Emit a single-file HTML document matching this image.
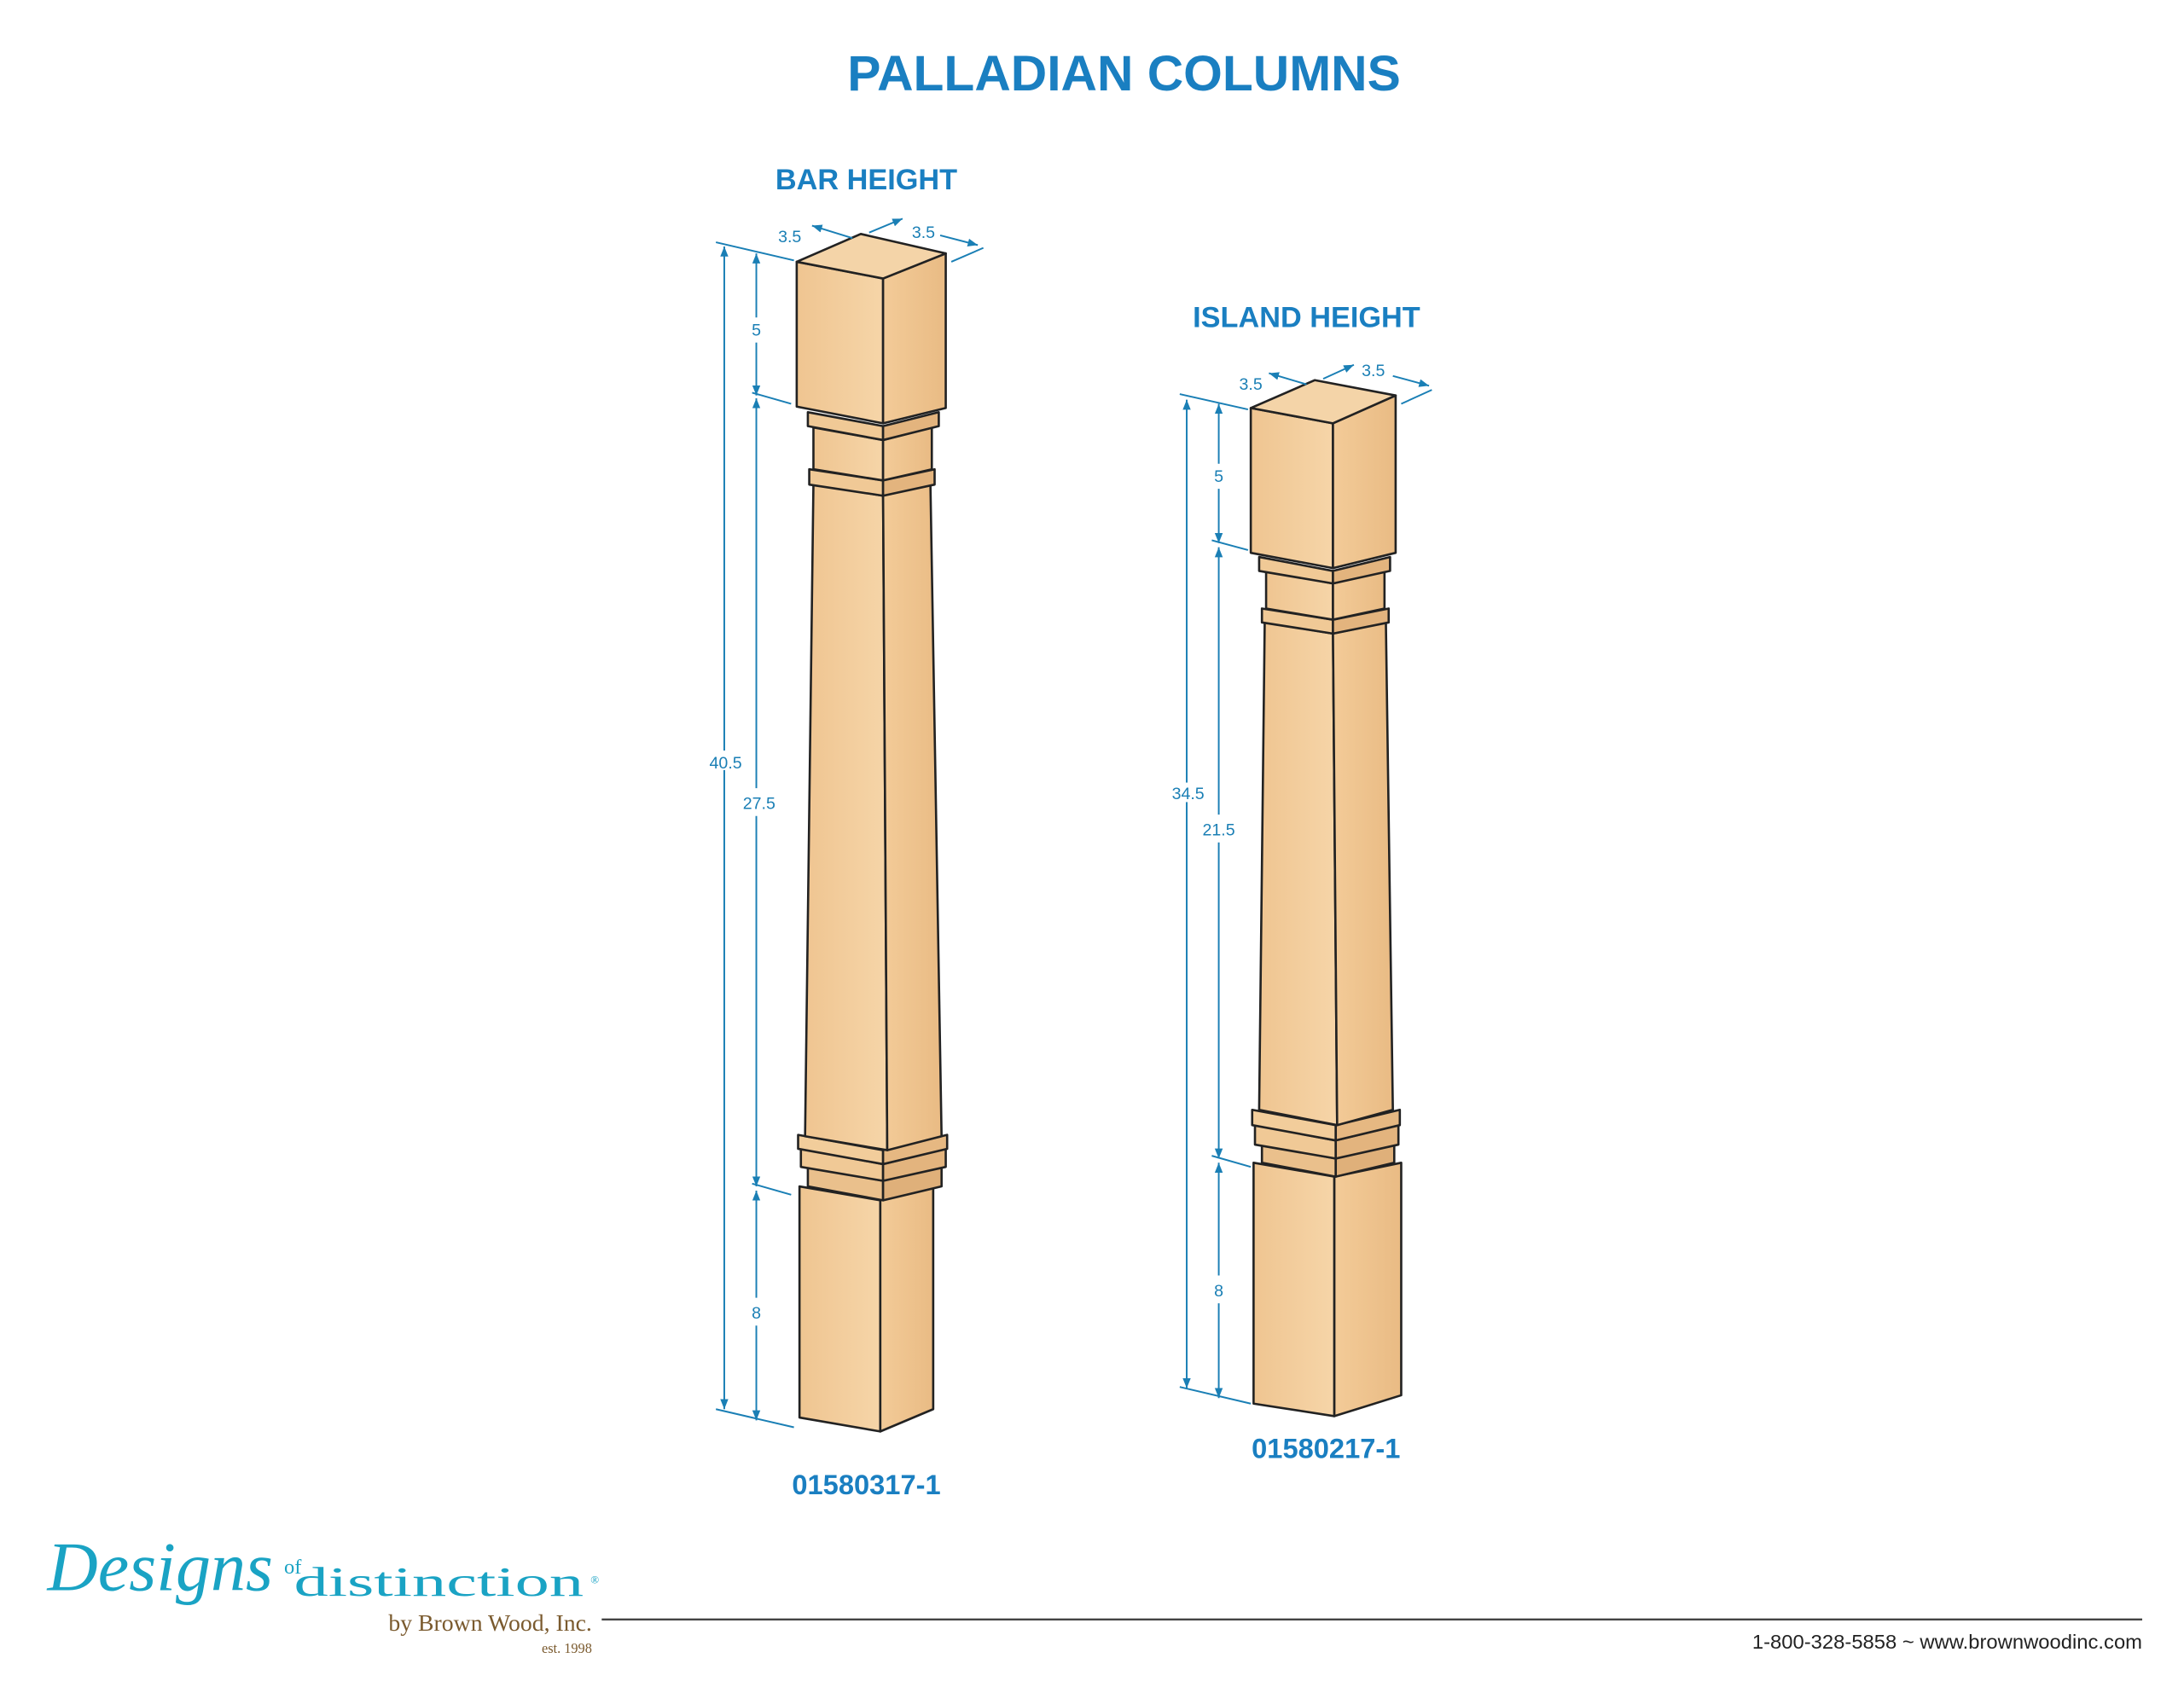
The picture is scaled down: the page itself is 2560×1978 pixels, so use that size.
<!DOCTYPE html>
<html><head><meta charset="utf-8"><style>
html,body{margin:0;padding:0;background:#fff;}
svg{display:block;}
</style></head><body>
<svg width="2560" height="1978" viewBox="0 0 1568 1211.5" xmlns="http://www.w3.org/2000/svg">
<defs>
<marker id="a" viewBox="0 0 10 10" refX="10" refY="5" markerWidth="6" markerHeight="6" orient="auto-start-reverse"><path d="M0,1 L10,5 L0,9 z" fill="#1a7fb5"/></marker>
<linearGradient id="L" x1="0" x2="1" y1="0" y2="0"><stop offset="0" stop-color="#efc591"/><stop offset="1" stop-color="#f6d5a8"/></linearGradient>
<linearGradient id="R" x1="0" x2="1" y1="0" y2="0"><stop offset="0" stop-color="#f3cb98"/><stop offset="1" stop-color="#e9bb84"/></linearGradient>
</defs>
<rect width="1568" height="1211.5" fill="#fff"/>
<g font-family="Liberation Sans, sans-serif" font-weight="bold" fill="#1a7fc1" text-anchor="middle">
<text x="807" y="65" font-size="36">PALLADIAN COLUMNS</text>
<text x="622" y="136" font-size="21">BAR HEIGHT</text>
<text x="938" y="235" font-size="21">ISLAND HEIGHT</text>
<text x="622" y="1073" font-size="20">01580317-1</text>
<text x="952" y="1047" font-size="20">01580217-1</text>
</g>

<!-- BAR COLUMN -->
<g stroke="#222" stroke-width="1.6" stroke-linejoin="round">
<polygon points="574,852 632,862 632,1028 574,1018" fill="url(#L)"/>
<polygon points="632,862 670,852 670,1012 632,1028" fill="url(#R)"/>
<polygon points="580,838 634,848 634,862 580,852" fill="#eac08c"/>
<polygon points="634,848 676,838 676,852 634,862" fill="#dfb07a"/>
<polygon points="575,825 634,836 634,848 575,838" fill="#f0c996"/>
<polygon points="634,836 679,825 679,838 634,848" fill="#e3b47e"/>
<polygon points="573,815 634,826 634,836 573,825" fill="#f2cd9b"/>
<polygon points="634,826 680,815 680,825 634,836" fill="#e6b882"/>
<polygon points="584,348 634,356 637,826 578,816" fill="url(#L)"/>
<polygon points="634,356 668,348 676,816 637,826" fill="url(#R)"/>
<polygon points="581,337 634,345 634,356 581,348" fill="#f0c996"/>
<polygon points="634,345 671,337 671,348 634,356" fill="#e3b47e"/>
<polygon points="584,307 634,316 634,345 584,337" fill="url(#L)"/>
<polygon points="634,316 669,307 669,337 634,345" fill="url(#R)"/>
<polygon points="580,296 634,306 634,316 580,306" fill="#f0c996"/>
<polygon points="634,306 674,296 674,306 634,316" fill="#e3b47e"/>
<polygon points="572,188 634,200 634,304 572,292" fill="url(#L)"/>
<polygon points="634,200 679,182 679,293 634,304" fill="url(#R)"/>
<polygon points="572,188 618,168 679,182 634,200" fill="#f4d4a8"/>
</g>

<!-- ISLAND COLUMN -->
<g stroke="#222" stroke-width="1.6" stroke-linejoin="round">
<polygon points="900,835 958,845 958,1017 900,1008" fill="url(#L)"/>
<polygon points="958,845 1006,835 1006,1002 958,1017" fill="url(#R)"/>
<polygon points="906,822 959,832 959,845 906,835" fill="#eac08c"/>
<polygon points="959,832 1001,822 1001,835 959,845" fill="#dfb07a"/>
<polygon points="901,808 959,819 959,832 901,822" fill="#f0c996"/>
<polygon points="959,819 1004,808 1004,822 959,832" fill="#e3b47e"/>
<polygon points="899,797 959,808 959,819 899,808" fill="#f2cd9b"/>
<polygon points="959,808 1005,797 1005,808 959,819" fill="#e6b882"/>
<polygon points="908,447 957,455 960,808 904,797" fill="url(#L)"/>
<polygon points="957,455 995,447 1000,797 960,808" fill="url(#R)"/>
<polygon points="906,437 957,445 957,455 906,447" fill="#f0c996"/>
<polygon points="957,445 997,437 997,447 957,455" fill="#e3b47e"/>
<polygon points="909,410 957,419 957,445 909,437" fill="url(#L)"/>
<polygon points="957,419 994,410 994,437 957,445" fill="url(#R)"/>
<polygon points="904,400 957,410 957,419 904,410" fill="#f0c996"/>
<polygon points="957,410 998,400 998,410 957,419" fill="#e3b47e"/>
<polygon points="898,293 957,304 957,408 898,397" fill="url(#L)"/>
<polygon points="957,304 1002,284 1002,397 957,408" fill="url(#R)"/>
<polygon points="898,293 944,273 1002,284 957,304" fill="#f4d4a8"/>
</g>

<!-- DIMENSIONS -->
<g stroke="#1a7fb5" stroke-width="1.2" fill="none">
<line x1="514" y1="174" x2="570" y2="187"/>
<line x1="540" y1="282" x2="568" y2="290"/>
<line x1="540" y1="850" x2="568" y2="858"/>
<line x1="514" y1="1012" x2="570" y2="1025"/>
<line x1="520" y1="177" x2="520" y2="1012" marker-start="url(#a)" marker-end="url(#a)"/>
<line x1="543" y1="182" x2="543" y2="228" marker-start="url(#a)"/>
<line x1="543" y1="246" x2="543" y2="284" marker-end="url(#a)"/>
<line x1="543" y1="286" x2="543" y2="566" marker-start="url(#a)"/>
<line x1="543" y1="586" x2="543" y2="852" marker-end="url(#a)"/>
<line x1="543" y1="855" x2="543" y2="932" marker-start="url(#a)"/>
<line x1="543" y1="952" x2="543" y2="1020" marker-end="url(#a)"/>
<line x1="583" y1="162" x2="612" y2="171" marker-start="url(#a)"/>
<line x1="624" y1="167" x2="648" y2="157" marker-end="url(#a)"/>
<line x1="675" y1="169" x2="702" y2="176" marker-end="url(#a)"/>
<line x1="683" y1="188" x2="706" y2="178"/>

<line x1="847" y1="283" x2="896" y2="294"/>
<line x1="870" y1="388" x2="896" y2="395"/>
<line x1="870" y1="830" x2="898" y2="838"/>
<line x1="847" y1="996" x2="898" y2="1008"/>
<line x1="852" y1="287" x2="852" y2="997" marker-start="url(#a)" marker-end="url(#a)"/>
<line x1="875" y1="290" x2="875" y2="333" marker-start="url(#a)"/>
<line x1="875" y1="351" x2="875" y2="390" marker-end="url(#a)"/>
<line x1="875" y1="393" x2="875" y2="585" marker-start="url(#a)"/>
<line x1="875" y1="605" x2="875" y2="832" marker-end="url(#a)"/>
<line x1="875" y1="835" x2="875" y2="916" marker-start="url(#a)"/>
<line x1="875" y1="936" x2="875" y2="1004" marker-end="url(#a)"/>
<line x1="911" y1="268" x2="938" y2="276" marker-start="url(#a)"/>
<line x1="950" y1="272" x2="972" y2="262" marker-end="url(#a)"/>
<line x1="1000" y1="270" x2="1026" y2="277" marker-end="url(#a)"/>
<line x1="1006" y1="290" x2="1028" y2="280"/>
</g>
<g font-family="Liberation Sans, sans-serif" font-size="12" fill="#1a7fb5" text-anchor="middle">
<rect x="506" y="539" width="28" height="14" fill="#fff"/>
<text x="521" y="552">40.5</text>
<text x="545" y="581">27.5</text>
<text x="543" y="241">5</text>
<text x="543" y="947">8</text>
<text x="567" y="174">3.5</text>
<text x="663" y="171">3.5</text>
<rect x="838" y="562" width="30" height="14" fill="#fff"/>
<text x="853" y="574">34.5</text>
<text x="875" y="600">21.5</text>
<text x="875" y="346">5</text>
<text x="875" y="931">8</text>
<text x="898" y="280">3.5</text>
<text x="986" y="270">3.5</text>
</g>

<!-- FOOTER -->
<g>
<text x="34" y="1142" font-family="Liberation Serif, serif" font-style="italic" font-size="50" fill="#1aa3c4" textLength="162" lengthAdjust="spacingAndGlyphs">Designs</text>
<text x="204" y="1130" font-family="Liberation Serif, serif" font-size="15" fill="#1aa3c4">of</text>
<text x="211" y="1146" font-family="Liberation Serif, serif" font-size="30" fill="#1aa3c4" textLength="208" lengthAdjust="spacingAndGlyphs" font-weight="normal">distinction</text>
<text x="424" y="1137" font-family="Liberation Serif, serif" font-size="8" fill="#1aa3c4">®</text>
<text x="425" y="1171" font-family="Liberation Serif, serif" font-size="17" fill="#7a5a2e" text-anchor="end">by Brown Wood, Inc.</text>
<text x="425" y="1187" font-family="Liberation Serif, serif" font-size="10" fill="#7a5a2e" text-anchor="end">est. 1998</text>
<line x1="432" y1="1163" x2="1538" y2="1163" stroke="#444" stroke-width="1.4"/>
<text x="1538" y="1184" font-family="Liberation Sans, sans-serif" font-size="14" fill="#222" text-anchor="end" textLength="280" lengthAdjust="spacingAndGlyphs">1-800-328-5858 ~ www.brownwoodinc.com</text>
</g>
</svg>
</body></html>
